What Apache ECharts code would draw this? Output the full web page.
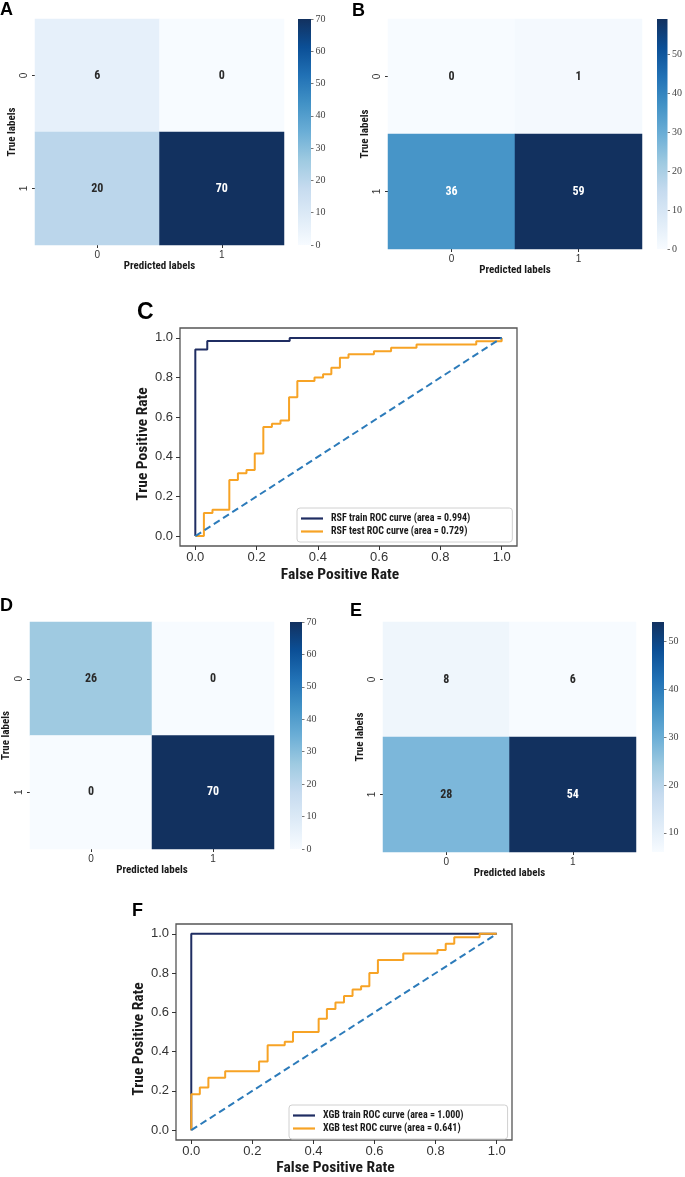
<!DOCTYPE html>
<html><head><meta charset="utf-8">
<script src="https://cdn.jsdelivr.net/npm/echarts@6/dist/echarts.min.js"></script>
<style>html,body{margin:0;padding:0;background:#fff}#c{width:685px;height:1177px}</style>
</head><body><div id="c"></div>
<script>
// ---------------- data ----------------
const cmCategories = ['0', '1'];
// rows = true label, cols = predicted label
const cmA = [[6, 0], [20, 70]];
const cmB = [[0, 1], [36, 59]];
const cmD = [[26, 0], [0, 70]];
const cmE = [[8, 6], [28, 54]];
const cbTicksA = [0, 10, 20, 30, 40, 50, 60, 70];
const cbTicksB = [0, 10, 20, 30, 40, 50];
const cbTicksD = [0, 10, 20, 30, 40, 50, 60, 70];
const cbTicksE = [10, 20, 30, 40, 50];
const rocTicks = [0, 0.2, 0.4, 0.6, 0.8, 1.0];

const rsfTrainName = 'RSF train ROC curve (area = 0.994)';
const rsfTestName = 'RSF test ROC curve (area = 0.729)';
const rsfTrainFpr = [0, 0, 0.039, 0.039, 0.308, 0.308, 1.0];
const rsfTrainTpr = [0, 0.941, 0.941, 0.985, 0.985, 1.0, 1.0];
const rsfTestFpr = [0, 0.028, 0.028, 0.056, 0.056, 0.111, 0.111, 0.139, 0.139, 0.167, 0.167, 0.194, 0.194, 0.222, 0.222, 0.25, 0.25, 0.278, 0.278, 0.306, 0.306, 0.333, 0.333, 0.389, 0.389, 0.417, 0.417, 0.444, 0.444, 0.472, 0.472, 0.5, 0.5, 0.583, 0.583, 0.639, 0.639, 0.722, 0.722, 0.917, 0.917, 1.0, 1.0];
const rsfTestTpr = [0, 0, 0.117, 0.117, 0.133, 0.133, 0.283, 0.283, 0.317, 0.317, 0.333, 0.333, 0.417, 0.417, 0.55, 0.55, 0.567, 0.567, 0.583, 0.583, 0.70, 0.70, 0.783, 0.783, 0.80, 0.80, 0.817, 0.817, 0.85, 0.85, 0.90, 0.90, 0.917, 0.917, 0.933, 0.933, 0.95, 0.95, 0.967, 0.967, 0.983, 0.983, 1.0];

const xgbTrainName = 'XGB train ROC curve (area = 1.000)';
const xgbTestName = 'XGB test ROC curve (area = 0.641)';
const xgbTrainFpr = [0, 0, 1.0];
const xgbTrainTpr = [0, 1.0, 1.0];
const xgbTestFpr = [0, 0, 0.028, 0.028, 0.056, 0.056, 0.111, 0.111, 0.222, 0.222, 0.25, 0.25, 0.306, 0.306, 0.333, 0.333, 0.417, 0.417, 0.444, 0.444, 0.472, 0.472, 0.5, 0.5, 0.528, 0.528, 0.556, 0.556, 0.583, 0.583, 0.611, 0.611, 0.694, 0.694, 0.806, 0.806, 0.833, 0.833, 0.861, 0.861, 0.944, 0.944, 1.0];
const xgbTestTpr = [0, 0.183, 0.183, 0.217, 0.217, 0.267, 0.267, 0.30, 0.30, 0.35, 0.35, 0.433, 0.433, 0.45, 0.45, 0.50, 0.50, 0.567, 0.567, 0.617, 0.617, 0.65, 0.65, 0.683, 0.683, 0.717, 0.717, 0.733, 0.733, 0.80, 0.80, 0.867, 0.867, 0.90, 0.90, 0.917, 0.917, 0.95, 0.95, 0.983, 0.983, 1.0, 1.0];
const chanceFpr = [0, 1];
const chanceTpr = [0, 1];

// ---------------- styles ----------------
const blues = ['#f7fbff', '#deebf7', '#c6dbef', '#9ecae1', '#6baed6', '#4292c6', '#2171b5', '#0b4f96', '#12315f'];
const NARROW = "'Roboto Condensed','Liberation Sans Narrow','Liberation Sans',Arial,sans-serif";
const SANS = "'Liberation Sans',Arial,sans-serif";
const SERIF = "'Liberation Serif','DejaVu Serif',serif";
const navy = '#1f2d62', orange = '#f7a325', dashBlue = '#2c7bba';

const option = {
  backgroundColor: '#fff', animation: false,
  grid: [], xAxis: [], yAxis: [], series: [], visualMap: [], legend: [], graphic: []
};

function zip(a, b) { return a.map((v, i) => [v, b[i]]); }

function addConfusion(cm, ticks, heat, cb, nameGapY, nameGapX) {
  const flat = cm.flat();
  const vmin = Math.min(...flat), vmax = Math.max(...flat);
  const gi = option.grid.length;
  option.grid.push(Object.assign({ containLabel: false }, heat));
  option.xAxis.push({
    gridIndex: gi, type: 'category', data: cmCategories,
    axisLine: { show: false }, splitLine: { show: false },
    axisTick: { show: true, alignWithLabel: true, length: 3, lineStyle: { color: '#333', width: 1 } },
    axisLabel: { fontSize: 10, color: '#333', margin: 5, fontFamily: SANS },
    name: 'Predicted labels', nameLocation: 'middle', nameGap: nameGapX,
    nameTextStyle: { fontSize: 11, fontWeight: 'bold', color: '#1a1a1a', fontFamily: NARROW }
  });
  option.yAxis.push({
    gridIndex: gi, type: 'category', data: cmCategories, inverse: true,
    axisLine: { show: false }, splitLine: { show: false },
    axisTick: { show: true, alignWithLabel: true, length: 3, lineStyle: { color: '#333', width: 1 } },
    axisLabel: { fontSize: 10, color: '#333', margin: 6, rotate: 90, fontFamily: SANS },
    name: 'True labels', nameLocation: 'middle', nameGap: nameGapY,
    nameTextStyle: { fontSize: 11, fontWeight: 'bold', color: '#1a1a1a', fontFamily: NARROW }
  });
  const data = [];
  cm.forEach((row, r) => row.forEach((v, c) => {
    const t = (v - vmin) / (vmax - vmin);
    data.push({ value: [c, r, v], label: { color: t > 0.6 ? '#ffffff' : '#2a2a2a' } });
  }));
  const si = option.series.length;
  option.series.push({
    type: 'heatmap', xAxisIndex: gi, yAxisIndex: gi, data: data,
    label: { show: true, fontSize: 12, fontWeight: 'bold', fontFamily: NARROW },
    emphasis: { disabled: true }, itemStyle: { borderWidth: 0 }
  });
  option.visualMap.push({
    type: 'continuous', show: false, min: vmin, max: vmax, dimension: 2,
    seriesIndex: si, inRange: { color: blues }
  });
  const ci = option.grid.length;
  option.grid.push(cb);
  option.xAxis.push({ gridIndex: ci, type: 'category', data: [''], show: false });
  option.yAxis.push({
    gridIndex: ci, type: 'value', min: vmin, max: vmax, position: 'right',
    axisLine: { show: false, onZero: false }, splitLine: { show: false },
    axisTick: { show: true, length: 2.5, customValues: ticks, lineStyle: { color: '#555', width: 0.8 } },
    axisLabel: { customValues: ticks, fontSize: 10, color: '#444', margin: 4.5, fontFamily: SERIF }
  });
  const stops = blues.map((c, i) => ({ offset: 1 - i / (blues.length - 1), color: c })).reverse();
  option.series.push({
    type: 'custom', xAxisIndex: ci, yAxisIndex: ci, silent: true,
    data: [[0, vmin, vmax]], encode: { x: 0, y: [1, 2] },
    renderItem: function (params, api) {
      const top = api.coord([0, api.value(2)]);
      const bot = api.coord([0, api.value(1)]);
      const cs = params.coordSys;
      return {
        type: 'rect', shape: { x: cs.x, y: top[1], width: cs.width, height: bot[1] - top[1] },
        style: { fill: new echarts.graphic.LinearGradient(0, 0, 0, 1, stops) }
      };
    }
  });
}

function addRoc(box, legendPos, legendPadRight, trainName, trainF, trainT, testName, testF, testT, gapX, gapY) {
  const gi = option.grid.length;
  option.grid.push(Object.assign({ show: true, borderColor: '#555', borderWidth: 1.3, backgroundColor: 'transparent' }, box));
  option.xAxis.push({
    gridIndex: gi, type: 'value', min: -0.05, max: 1.05,
    axisLine: { show: false, onZero: false }, splitLine: { show: false },
    axisTick: { show: true, customValues: rocTicks, length: 4, lineStyle: { color: '#333', width: 1 } },
    axisLabel: { customValues: rocTicks, formatter: v => v.toFixed(1), fontSize: 13, color: '#333', margin: 5, fontFamily: SANS },
    name: 'False Positive Rate', nameLocation: 'middle', nameGap: gapX,
    nameTextStyle: { fontSize: 15.5, fontWeight: 'bold', color: '#1a1a1a', fontFamily: NARROW, padding: [0, 17, 0, 0] }
  });
  option.yAxis.push({
    gridIndex: gi, type: 'value', min: -0.05, max: 1.05,
    axisLine: { show: false, onZero: false }, splitLine: { show: false },
    axisTick: { show: true, customValues: rocTicks, length: 4, lineStyle: { color: '#333', width: 1 } },
    axisLabel: { customValues: rocTicks, formatter: v => v.toFixed(1), fontSize: 13, color: '#333', margin: 7, fontFamily: SANS },
    name: 'True Positive Rate', nameLocation: 'middle', nameGap: gapY,
    nameTextStyle: { fontSize: 15.5, fontWeight: 'bold', color: '#1a1a1a', fontFamily: NARROW, padding: [0, 14, 0, 0] }
  });
  const common = { type: 'line', xAxisIndex: gi, yAxisIndex: gi, symbol: 'none', showSymbol: false, silent: true, emphasis: { disabled: true } };
  option.series.push(Object.assign({ name: trainName, data: zip(trainF, trainT), lineStyle: { color: navy, width: 2 }, itemStyle: { color: navy }, z: 2 }, common));
  option.series.push(Object.assign({ name: testName, data: zip(testF, testT), lineStyle: { color: orange, width: 2 }, itemStyle: { color: orange }, z: 3 }, common));
  option.series.push(Object.assign({ name: 'chance', data: zip(chanceFpr, chanceTpr), lineStyle: { color: dashBlue, width: 2, type: [7, 4] }, itemStyle: { color: dashBlue }, z: 4 }, common));
  option.legend.push(Object.assign({
    data: [trainName, testName], orient: 'vertical', itemGap: 2, itemWidth: 22, itemHeight: 2.2, icon: 'rect',
    padding: [5, legendPadRight, 5, 4], borderColor: '#d0d0d0', borderWidth: 1, borderRadius: 3, backgroundColor: '#fff',
    selectedMode: false,
    textStyle: { fontSize: 10, fontWeight: 'bold', color: '#1a1a1a', fontFamily: NARROW, padding: [0, 0, 0, 3], lineHeight: 11 }
  }, legendPos));
}

// ---------------- layout ----------------
addConfusion(cmA, cbTicksA, { left: 35, top: 19, width: 249, height: 226 }, { left: 298, top: 19, width: 13, height: 226 }, 16, 15);
addConfusion(cmB, cbTicksB, { left: 388, top: 19, width: 254, height: 230 }, { left: 657, top: 19, width: 12, height: 230 }, 16, 16);
addRoc({ left: 180, top: 328, width: 337, height: 218 }, { left: 297, top: 508 }, 42, rsfTrainName, rsfTrainFpr, rsfTrainTpr, rsfTestName, rsfTestFpr, rsfTestTpr, 21, 27);
addConfusion(cmD, cbTicksD, { left: 26, top: 622, width: 248, height: 227 }, { left: 290, top: 622, width: 12, height: 227 }, 18, 16);
addConfusion(cmE, cbTicksE, { left: 383, top: 622, width: 253, height: 230 }, { left: 652, top: 622, width: 12, height: 230 }, 16, 15);
addRoc({ left: 176, top: 924, width: 336, height: 219 }, { left: 289, top: 1105 }, 44, xgbTrainName, xgbTrainFpr, xgbTrainTpr, xgbTestName, xgbTestFpr, xgbTestTpr, 20, 26);

const letters = [
  ['A', 0, 1, 18], ['B', 352, 2, 18], ['C', 137, 301, 23],
  ['D', 0, 597, 18], ['E', 350, 602, 18], ['F', 132, 902, 18]
];
letters.forEach(([t, x, y, s]) => option.graphic.push({
  type: 'text', left: x, top: y, z: 100,
  style: { text: t, font: 'bold ' + s + 'px ' + SANS, fill: '#000' }
}));

const chart = echarts.init(document.getElementById('c'), null, { renderer: 'canvas' });
chart.setOption(option);
</script></body></html>
